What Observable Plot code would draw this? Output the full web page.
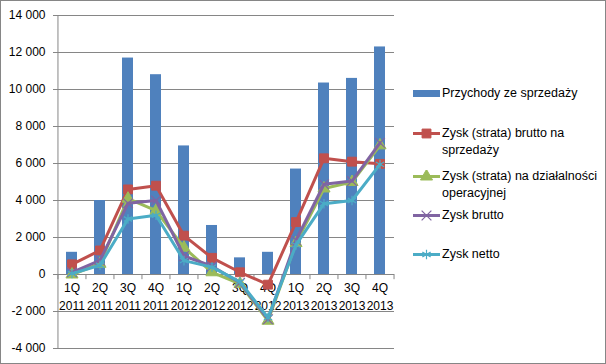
<!DOCTYPE html>
<html><head><meta charset="utf-8">
<script src="https://cdn.jsdelivr.net/npm/d3@7"></script>
<script src="https://cdn.jsdelivr.net/npm/@observablehq/plot@0.6"></script>
<style>
body{margin:0;background:#fff;}
#wrap{position:relative;width:606px;height:364px;font-family:"Liberation Sans",Arial,sans-serif;background:#fff;overflow:hidden;}
#wrap svg.plot{position:absolute;left:0;top:0;}
#border{position:absolute;left:0;top:0;width:604px;height:362px;border:1px solid #868686;pointer-events:none;}
#legend{position:absolute;left:0;top:0;font-size:12.5px;color:#000;}
.item{position:absolute;left:413px;display:flex;align-items:flex-start;line-height:17px;white-space:nowrap;}
.item svg{flex:none;margin-top:2px;margin-right:2px;}
</style></head>
<body><div id="wrap"><div id="legend"></div><div id="border"></div></div>
<script>
const categories = ["1Q 2011","2Q 2011","3Q 2011","4Q 2011","1Q 2012","2Q 2012","3Q 2012","4Q 2012","1Q 2013","2Q 2013","3Q 2013","4Q 2013"];
const yTicks = [-4000,-2000,0,2000,4000,6000,8000,10000,12000,14000];
const revenue    = [1200, 4000, 11700, 10800, 6950, 2650, 900, 1200, 5700, 10350, 10600, 12300];
const grossSales = [550, 1300, 4600, 4800, 2100, 900, 120, -550, 2830, 6280, 6100, 5980];
const operating  = [0, 580, 4100, 3450, 1450, 120, -500, -2500, 1700, 4650, 5000, 6980];
const grossProfit= [120, 760, 3850, 4000, 1000, 450, -450, -2420, 1850, 4880, 5050, 7120];
const netProfit  = [50, 500, 3000, 3200, 750, 400, -400, -2330, 1600, 3830, 4000, 5950];
const seriesNames = ["Przychody ze sprzedaży","Zysk (strata) brutto na\nsprzedaży","Zysk (strata) na działalności\noperacyjnej","Zysk brutto","Zysk netto"];

const colors = {bar:"#4F81BD", red:"#C0504D", green:"#9BBB59", purple:"#8064A2", cyan:"#4BACC6"};
const lineSeries = [
  {values: grossSales, color: colors.red, symbol: "square", r: 5, filled: true},
  {values: operating, color: colors.green, symbol: "triangle", r: 4.5, filled: true},
  {values: grossProfit, color: colors.purple, symbol: "times", r: 4.5, filled: false},
  {values: netProfit, color: colors.cyan, symbol: "asterisk", r: 4.5, filled: false}
];

const W = 606, H = 364, mL = 57, mR = 212, mT = 15, mB = 16;
const step = (W - mL - mR) / categories.length;
const gray = "#868686";
const fmt = d => (d < 0 ? "-" : "") + String(Math.abs(d)).replace(/\B(?=(\d{3})+(?!\d))/g, " ");

const bars = categories.map((q, i) => ({q, v: revenue[i]}));
const marks = [
  Plot.ruleY(yTicks, {y: d => d, stroke: gray, strokeWidth: 1, insetLeft: -4}),
  Plot.ruleX([categories[0]], {x: d => d, y1: () => -4000, y2: () => 14000, dx: -step / 2, stroke: gray}),
  Plot.text(yTicks, {y: d => d, text: fmt, frameAnchor: "left", textAnchor: "end", dx: -12, fontSize: 12, fill: "#000"}),
  Plot.barY(bars, {x: "q", y: "v", fill: colors.bar}),
  Plot.ruleX(categories, {x: d => d, y1: () => 0, y2: () => -280, dx: -step / 2, stroke: gray}),
  Plot.ruleX([categories[categories.length - 1]], {x: d => d, y1: () => 0, y2: () => -280, dx: step / 2, stroke: gray}),
  Plot.text(categories, {x: d => d, y: () => 0, text: d => d.replace(" ", "\n"), lineAnchor: "top", lineHeight: 1.5, dy: 5, fontSize: 12, fill: "#000"})
];
for (const s of lineSeries) {
  const data = categories.map((q, i) => ({q, v: s.values[i]}));
  marks.push(Plot.line(data, {x: "q", y: "v", stroke: s.color, strokeWidth: 3, strokeLinejoin: "round"}));
  marks.push(Plot.dot(data, {x: "q", y: "v", symbol: s.symbol, r: s.r,
    fill: s.filled ? s.color : "none", stroke: s.color, strokeWidth: s.filled ? 1 : 1.2}));
}

const chart = Plot.plot({
  width: W, height: H, marginLeft: mL, marginRight: mR, marginTop: mT, marginBottom: mB,
  style: {fontFamily: '"Liberation Sans", Arial, sans-serif', fontSize: "12px", background: "transparent", overflow: "visible"},
  x: {type: "band", domain: categories, paddingInner: 0.6, paddingOuter: 0.3, axis: null},
  y: {domain: [-4000, 14000], axis: null},
  marks
});
chart.classList.add("plot");
const wrap = document.getElementById("wrap");
wrap.insertBefore(chart, wrap.firstChild);

// legend
const legend = document.getElementById("legend");
const legendTops = [85, 125, 168, 207, 246];
const symMap = {square: d3.symbolSquare, triangle: d3.symbolTriangle, times: d3.symbolTimes, asterisk: d3.symbolAsterisk};
seriesNames.forEach((name, i) => {
  const div = document.createElement("div");
  div.className = "item";
  div.style.top = legendTops[i] + "px";
  const ns = "http://www.w3.org/2000/svg";
  const svg = document.createElementNS(ns, "svg");
  svg.setAttribute("width", 27); svg.setAttribute("height", 13);
  if (i === 0) {
    const r = document.createElementNS(ns, "rect");
    r.setAttribute("x", 0); r.setAttribute("y", 3); r.setAttribute("width", 27); r.setAttribute("height", 7);
    r.setAttribute("fill", colors.bar);
    svg.appendChild(r);
  } else {
    const s = lineSeries[i - 1];
    const l = document.createElementNS(ns, "line");
    l.setAttribute("x1", 0); l.setAttribute("x2", 27); l.setAttribute("y1", 6.5); l.setAttribute("y2", 6.5);
    l.setAttribute("stroke", s.color); l.setAttribute("stroke-width", 3);
    svg.appendChild(l);
    const p = document.createElementNS(ns, "path");
    p.setAttribute("d", d3.symbol(symMap[s.symbol], Math.PI * s.r * s.r)());
    p.setAttribute("transform", "translate(13.5,6.5)");
    p.setAttribute("fill", s.filled ? s.color : "none");
    p.setAttribute("stroke", s.color);
    p.setAttribute("stroke-width", s.filled ? 1 : 1.2);
    svg.appendChild(p);
  }
  div.appendChild(svg);
  const t = document.createElement("div");
  t.innerHTML = name.split("\n").join("<br>");
  div.appendChild(t);
  legend.appendChild(div);
});
</script>
</body></html>
